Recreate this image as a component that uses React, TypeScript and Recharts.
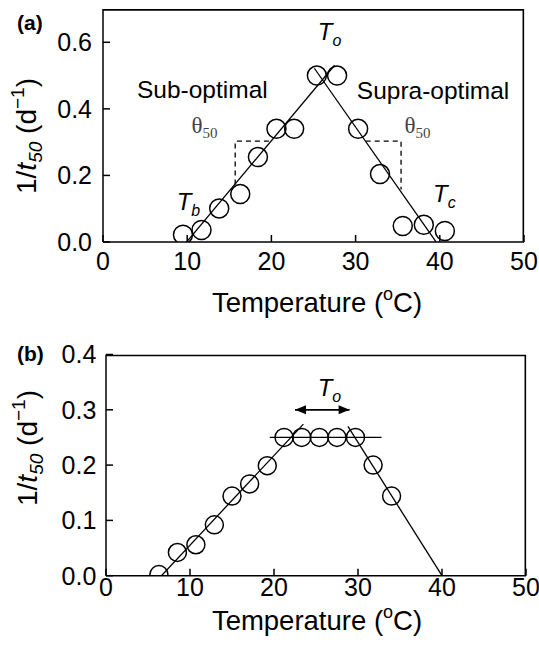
import React from 'react';
import { ComposedChart, Scatter, Line, XAxis, YAxis } from 'recharts';

const SANS = '"Liberation Sans", Arial, Helvetica, sans-serif';
const SERIF = '"Liberation Serif", "Times New Roman", serif';

// ---------- tick labels ----------
const tempTicks = [0, 10, 20, 30, 40, 50];
const rateTicksA = [0, 0.2, 0.4, 0.6];
const rateTicksB = [0, 0.1, 0.2, 0.3, 0.4];

// ---------- panel (a) observations ----------
const tempA = [9.5, 11.7, 13.8, 16.3, 18.4, 20.6, 22.7, 25.4, 27.8, 30.3, 32.9, 35.6, 38.1, 40.6];
const rateA = [0.022, 0.036, 0.101, 0.144, 0.255, 0.34, 0.34, 0.5, 0.5, 0.34, 0.204, 0.048, 0.052, 0.033];

// fitted lines (a)
const fitSubA = [{ x: 9.8, y: -0.004 }, { x: 27.5, y: 0.531 }];
const fitSupraA = [{ x: 25.1, y: 0.522 }, { x: 39.65, y: -0.003 }];
const thetaSubA = [{ x: 15.7, y: 0.173 }, { x: 15.7, y: 0.303 }, { x: 20.2, y: 0.303 }];
const thetaSupraA = [{ x: 31.2, y: 0.303 }, { x: 35.4, y: 0.303 }, { x: 35.4, y: 0.158 }];
// plot frame (top and right edges), kept just inside the axis range
const frameA = [{ x: 0, y: 0.6975 }, { x: 49.92, y: 0.6975 }, { x: 49.92, y: 0 }];

// annotations (a)
const notesA = [
  { x: 11.8, y: 0.432, kind: 'plain', text: 'Sub-optimal' },
  { x: 39.2, y: 0.43, kind: 'plain', text: 'Supra-optimal' },
  { x: 25.5, y: 0.607, kind: 'temp', text: 'T', sub: 'o' },
  { x: 8.75, y: 0.096, kind: 'temp', text: 'T', sub: 'b' },
  { x: 39.2, y: 0.121, kind: 'temp', text: 'T', sub: 'c' },
  { x: 10.5, y: 0.328, kind: 'theta', text: '\u03b8', sub: '50' },
  { x: 35.8, y: 0.327, kind: 'theta', text: '\u03b8', sub: '50' },
];

// ---------- panel (b) observations ----------
const tempB = [6.3, 8.5, 10.7, 12.9, 15.0, 17.1, 19.2, 21.2, 23.3, 25.4, 27.5, 29.7, 31.8, 34.0];
const rateB = [0.002, 0.042, 0.056, 0.092, 0.144, 0.166, 0.199, 0.25, 0.25, 0.25, 0.25, 0.25, 0.2, 0.144];

const fitSubB = [{ x: 6.6, y: 0 }, { x: 23.5, y: 0.274 }];
const fitPlateauB = [{ x: 19.5, y: 0.25 }, { x: 32.8, y: 0.25 }];
const fitSupraB = [{ x: 28.8, y: 0.27 }, { x: 40.0, y: 0 }];
const optimumRangeB = [{ x: 22.5, y: 0.3 }, { x: 29.0, y: 0.3 }];
const frameB = [{ x: 0, y: 0.3985 }, { x: 49.92, y: 0.3985 }, { x: 49.92, y: 0 }];
const notesB = [{ x: 25.2, y: 0.325, kind: 'temp', text: 'T', sub: 'o' }];

const maxTemp = 50;
const maxRateA = 0.7;
const maxRateB = 0.4;

const pointsA = tempA.map((t, i) => ({ x: t, y: rateA[i] }));
const pointsB = tempB.map((t, i) => ({ x: t, y: rateB[i] }));

const circleShape = (r: number) => (p: any) => (
  <circle cx={p.cx} cy={p.cy} r={r} fill="none" stroke="#000" strokeWidth={1.5} />
);

const noteShape = (p: any) => {
  const { cx, cy, payload } = p;
  if (payload.kind === 'plain') {
    return (
      <text x={cx} y={cy} textAnchor="middle" fontSize={24.5} fontFamily={SANS} fill="#000">
        {payload.text}
      </text>
    );
  }
  if (payload.kind === 'theta') {
    return (
      <text x={cx} y={cy} fontSize={23} fontFamily={SERIF} fill="#444">
        <tspan>{payload.text}</tspan>
        <tspan fontSize={15} dy={5}>{payload.sub}</tspan>
      </text>
    );
  }
  return (
    <text x={cx} y={cy} fontSize={24} fontFamily={SANS} fill="#000" fontStyle="italic">
      <tspan>{payload.text}</tspan>
      <tspan fontSize={16} dy={6}>{payload.sub}</tspan>
    </text>
  );
};

const arrowDot = (p: any) => {
  const { cx, cy, index } = p;
  const dir = index === 0 ? -1 : 1;
  return (
    <path
      key={`arrow-${index}`}
      d={`M${cx},${cy} L${cx - dir * 11},${cy - 4.5} L${cx - dir * 11},${cy + 4.5} Z`}
      fill="#000"
    />
  );
};

const xTitle = (baseline: number) => () => (
  <text x={317} y={baseline} textAnchor="middle" fontSize={27.5} fontFamily={SANS} fill="#000">
    Temperature (<tspan fontSize={18} dy={-12}>o</tspan>
    <tspan dy={12}>C)</tspan>
  </text>
);

const yTitle = (cx: number, cy: number, panel: string, px: number, py: number) => () => (
  <g>
    <text
      transform={`translate(${cx},${cy}) rotate(-90)`}
      x={0}
      y={0}
      textAnchor="middle"
      fontSize={28}
      fontFamily={SANS}
      fill="#000"
    >
      <tspan>1/</tspan>
      <tspan fontStyle="italic">t</tspan>
      <tspan fontSize={19} dy={6} fontStyle="italic">50</tspan>
      <tspan dy={-6}> (d</tspan>
      <tspan fontSize={19} dy={-12}>{'\u22121'}</tspan>
      <tspan dy={12}>)</tspan>
    </text>
    <text x={px} y={py} fontSize={21} fontWeight="bold" fontFamily={SANS} fill="#000">
      {panel}
    </text>
  </g>
);

const tickStyle = { fontSize: 25, fontFamily: SANS, fill: '#000' };
const fmt1 = (v: number) => v.toFixed(1);

export default function App() {
  return (
    <div style={{ position: 'absolute', left: 0, top: 0, width: 539, height: 652, background: '#fff' }}>
      <ComposedChart width={539} height={330} margin={{ top: 9, right: 15, left: 0, bottom: 0 }}>
        <XAxis
          type="number"
          dataKey="x"
          domain={[0, maxTemp]}
          ticks={tempTicks}
          tickSize={-7}
          tickMargin={17}
          height={88}
          stroke="#000"
          strokeWidth={1.5}
          tick={tickStyle}
          interval={0}
          label={xTitle(311.7)}
        />
        <YAxis
          type="number"
          dataKey="y"
          domain={[0, maxRateA]}
          allowDataOverflow
          ticks={rateTicksA}
          tickFormatter={fmt1}
          tickSize={-7}
          tickMargin={18}
          width={103}
          stroke="#000"
          strokeWidth={1.5}
          tick={tickStyle}
          interval={0}
          label={yTitle(36, 136, '(a)', 17, 30)}
        />
        <Line data={frameA} dataKey="y" stroke="#000" strokeWidth={1.6} dot={false} activeDot={false} isAnimationActive={false} />
        <Line data={fitSubA} dataKey="y" stroke="#000" strokeWidth={1.3} dot={false} activeDot={false} isAnimationActive={false} />
        <Line data={fitSupraA} dataKey="y" stroke="#000" strokeWidth={1.3} dot={false} activeDot={false} isAnimationActive={false} />
        <Line data={thetaSubA} dataKey="y" stroke="#000" strokeWidth={1.3} strokeDasharray="5 4" dot={false} activeDot={false} isAnimationActive={false} />
        <Line data={thetaSupraA} dataKey="y" stroke="#000" strokeWidth={1.3} strokeDasharray="5 4" dot={false} activeDot={false} isAnimationActive={false} />
        <Scatter data={pointsA} shape={circleShape(9.5)} isAnimationActive={false} />
        <Scatter data={notesA} shape={noteShape} isAnimationActive={false} />
      </ComposedChart>
      <ComposedChart width={539} height={322} margin={{ top: 24.5, right: 13, left: 0, bottom: 0 }}>
        <XAxis
          type="number"
          dataKey="x"
          domain={[0, maxTemp]}
          ticks={tempTicks}
          tickSize={-7}
          tickMargin={10}
          height={76.3}
          stroke="#000"
          strokeWidth={1.5}
          tick={tickStyle}
          interval={0}
          label={xTitle(300)}
        />
        <YAxis
          type="number"
          dataKey="y"
          domain={[0, maxRateB]}
          allowDataOverflow
          ticks={rateTicksB}
          tickFormatter={fmt1}
          tickSize={-7}
          tickMargin={16.7}
          width={106}
          stroke="#000"
          strokeWidth={1.5}
          tick={tickStyle}
          interval={0}
          label={yTitle(37, 118, '(b)', 17, 31)}
        />
        <Line data={frameB} dataKey="y" stroke="#000" strokeWidth={1.6} dot={false} activeDot={false} isAnimationActive={false} />
        <Line data={fitSubB} dataKey="y" stroke="#000" strokeWidth={1.3} dot={false} activeDot={false} isAnimationActive={false} />
        <Line data={fitPlateauB} dataKey="y" stroke="#000" strokeWidth={1.3} dot={false} activeDot={false} isAnimationActive={false} />
        <Line data={fitSupraB} dataKey="y" stroke="#000" strokeWidth={1.3} dot={false} activeDot={false} isAnimationActive={false} />
        <Line data={optimumRangeB} dataKey="y" stroke="#000" strokeWidth={1.8} dot={arrowDot} activeDot={false} isAnimationActive={false} />
        <Scatter data={pointsB} shape={circleShape(9)} isAnimationActive={false} />
        <Scatter data={notesB} shape={noteShape} isAnimationActive={false} />
      </ComposedChart>
    </div>
  );
}
